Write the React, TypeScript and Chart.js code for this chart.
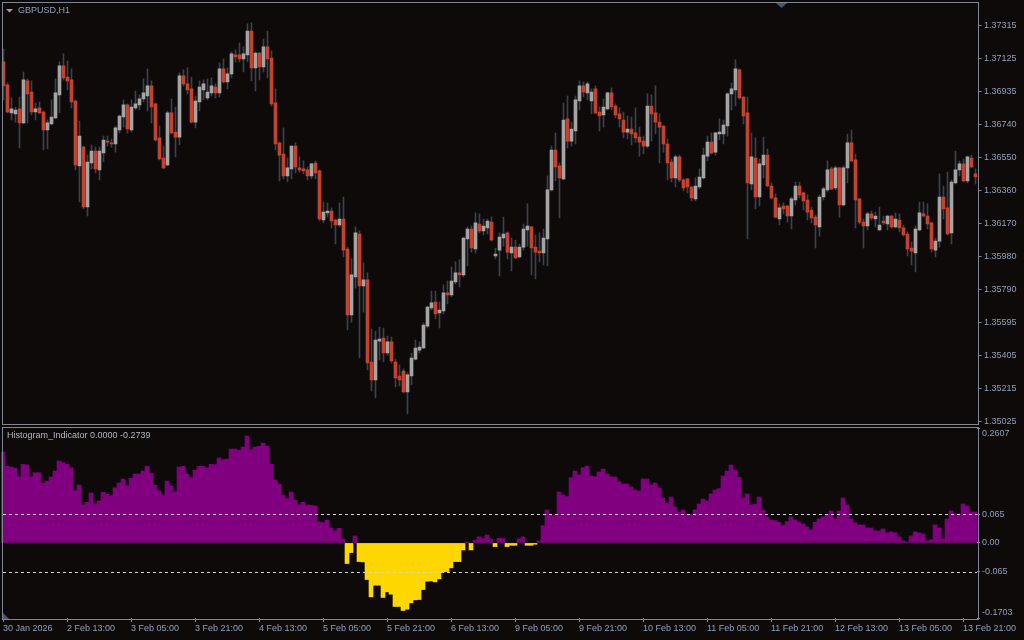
import React, { useEffect, useRef } from "react";
import { Chart, registerables } from "chart.js";

Chart.register(...registerables);

// ---------- data ----------
const SYMBOL_TITLE = "GBPUSD,H1";
const INDICATOR_TITLE = "Histogram_Indicator 0.0000 -0.2739";

const OPEN = [
  1.37105,1.36972,1.36810,1.36804,1.36833,1.36752,1.36995,1.36931,1.36815,1.36839,
  1.36815,1.36711,1.36746,1.36781,1.36914,1.37082,1.37018,1.37001,1.36879,1.36503,
  1.36612,1.36265,1.36520,1.36589,1.36480,1.36578,1.36647,1.36636,1.36630,1.36711,
  1.36786,1.36856,1.36711,1.36839,1.36856,1.36891,1.36908,1.36966,1.36862,1.36665,
  1.36549,1.36509,1.36810,1.36699,1.36670,1.37024,1.36978,1.36949,1.36757,1.36873,
  1.36943,1.36897,1.36926,1.36960,1.36926,1.37065,1.36989,1.37036,1.37146,1.37146,
  1.37123,1.37146,1.37284,1.37071,1.37157,1.37076,1.37192,1.37128,1.36868,1.36636,
  1.36572,1.36445,1.36486,1.36618,1.36492,1.36486,1.36480,1.36445,1.36520,1.36474,
  1.36190,1.36231,1.36242,1.36190,1.36161,1.36196,1.36022,1.35640,1.35860,1.36109,
  1.35808,1.35843,1.35368,1.35264,1.35489,1.35507,1.35420,1.35484,1.35368,1.35287,
  1.35316,1.35194,1.35287,1.35385,1.35437,1.35449,1.35576,1.35681,1.35715,1.35652,
  1.35663,1.35768,1.35756,1.35831,1.35884,1.35872,1.36080,1.36138,1.36022,1.36167,
  1.36127,1.36144,1.36178,1.35982,1.36016,1.36086,1.36115,1.35999,1.36033,1.35976,
  1.36033,1.36132,1.36150,1.36033,1.36010,1.35999,1.36080,1.36364,1.36595,1.36503,
  1.36428,1.36775,1.36647,1.36705,1.36879,1.36966,1.36926,1.36879,1.36949,1.36815,
  1.36798,1.36833,1.36926,1.36850,1.36804,1.36769,1.36699,1.36717,1.36694,1.36670,
  1.36647,1.36618,1.36850,1.36810,1.36757,1.36734,1.36630,1.36526,1.36434,1.36555,
  1.36422,1.36428,1.36381,1.36312,1.36381,1.36434,1.36560,1.36641,1.36583,1.36688,
  1.36688,1.36734,1.36920,1.36943,1.37059,1.36902,1.36810,1.36399,1.36549,1.36323,
  1.36509,1.36566,1.36387,1.36318,1.36196,1.36271,1.36271,1.36213,1.36306,1.36387,
  1.36347,1.36306,1.36248,1.36207,1.36150,1.36323,1.36364,1.36486,1.36376,1.36492,
  1.36277,1.36492,1.36636,1.36538,1.36312,1.36178,1.36155,1.36225,1.36196,1.36132,
  1.36184,1.36167,1.36213,1.36150,1.36190,1.36144,1.36109,1.36028,1.35999,1.36132,
  1.36225,1.36213,1.36173,1.36016,1.36068,1.36323,1.36260,1.36115,1.36405,1.36480,
  1.36515,1.36416,1.36549,1.36457
];

const HIGH = [
  1.37180,1.36984,1.36897,1.36844,1.36902,1.37047,1.37007,1.36995,1.36868,1.36873,
  1.36821,1.36769,1.36885,1.37007,1.37105,1.37152,1.37111,1.37065,1.36885,1.36763,
  1.36618,1.36566,1.36624,1.36612,1.36612,1.36676,1.36676,1.36659,1.36734,1.36798,
  1.36885,1.36862,1.36885,1.36937,1.36914,1.37007,1.37065,1.36995,1.36868,1.36734,
  1.36618,1.36821,1.36891,1.36844,1.37042,1.37059,1.37071,1.37018,1.36908,1.36995,
  1.37001,1.37007,1.37013,1.36978,1.37100,1.37123,1.37071,1.37163,1.37175,1.37215,
  1.37192,1.37325,1.37331,1.37163,1.37160,1.37238,1.37284,1.37169,1.36949,1.36641,
  1.36723,1.36549,1.36620,1.36636,1.36555,1.36532,1.36497,1.36520,1.36532,1.36480,
  1.36294,1.36289,1.36260,1.36196,1.36289,1.36323,1.36033,1.35965,1.36150,1.36127,
  1.35942,1.35884,1.35559,1.35547,1.35570,1.35565,1.35518,1.35512,1.35385,1.35351,
  1.35328,1.35305,1.35420,1.35495,1.35484,1.35594,1.35692,1.35779,1.35779,1.35715,
  1.35814,1.35837,1.35918,1.35948,1.35959,1.36091,1.36150,1.36155,1.36231,1.36225,
  1.36196,1.36196,1.36207,1.36028,1.36115,1.36207,1.36121,1.36086,1.36074,1.36051,
  1.36167,1.36283,1.36152,1.36103,1.36115,1.36138,1.36445,1.36618,1.36694,1.36520,
  1.36868,1.36908,1.36757,1.36908,1.36995,1.36989,1.36989,1.36949,1.36966,1.36844,
  1.36891,1.36931,1.36955,1.36862,1.36839,1.36815,1.36792,1.36786,1.36839,1.36728,
  1.36676,1.36920,1.36914,1.36966,1.36804,1.36736,1.36659,1.36543,1.36566,1.36566,
  1.36428,1.36430,1.36383,1.36434,1.36486,1.36607,1.36676,1.36694,1.36697,1.36775,
  1.36769,1.36926,1.36984,1.37117,1.37065,1.36904,1.36902,1.36694,1.36665,1.36543,
  1.36670,1.36601,1.36405,1.36341,1.36283,1.36289,1.36277,1.36323,1.36410,1.36410,
  1.36352,1.36335,1.36265,1.36219,1.36335,1.36381,1.36532,1.36497,1.36503,1.36497,
  1.36503,1.36688,1.36711,1.36572,1.36315,1.36196,1.36236,1.36242,1.36236,1.36265,
  1.36213,1.36219,1.36219,1.36231,1.36225,1.36161,1.36121,1.36062,1.36155,1.36294,
  1.36294,1.36283,1.36178,1.36086,1.36457,1.36387,1.36468,1.36422,1.36589,1.36532,
  1.36543,1.36560,1.36566,1.36486
];

const LOW = [
  1.36885,1.36810,1.36769,1.36757,1.36607,1.36746,1.36752,1.36798,1.36769,1.36804,
  1.36595,1.36601,1.36740,1.36775,1.36810,1.37001,1.36943,1.36839,1.36480,1.36294,
  1.36254,1.36213,1.36486,1.36463,1.36422,1.36526,1.36618,1.36612,1.36583,1.36694,
  1.36728,1.36694,1.36699,1.36827,1.36827,1.36873,1.36821,1.36752,1.36647,1.36538,
  1.36486,1.36503,1.36688,1.36555,1.36624,1.36966,1.36920,1.36752,1.36723,1.36821,
  1.36885,1.36885,1.36908,1.36897,1.36902,1.36984,1.36949,1.37013,1.37105,1.37105,
  1.37047,1.37105,1.36995,1.36937,1.37001,1.37047,1.37013,1.36850,1.36595,1.36416,
  1.36428,1.36410,1.36428,1.36463,1.36468,1.36457,1.36422,1.36428,1.36428,1.36184,
  1.36173,1.36207,1.36144,1.36051,1.36150,1.35976,1.35553,1.35599,1.35796,1.35391,
  1.35657,1.35322,1.35200,1.35160,1.35380,1.35368,1.35408,1.35362,1.35223,1.35229,
  1.35189,1.35067,1.35235,1.35380,1.35420,1.35443,1.35565,1.35669,1.35617,1.35565,
  1.35646,1.35704,1.35744,1.35820,1.35802,1.35860,1.35924,1.36004,1.35999,1.36115,
  1.36103,1.36109,1.36068,1.35965,1.35866,1.36039,1.35965,1.35895,1.35965,1.35970,
  1.36016,1.36039,1.35872,1.35849,1.35948,1.35930,1.35924,1.36358,1.36416,1.36202,
  1.36422,1.36607,1.36618,1.36630,1.36827,1.36902,1.36885,1.36804,1.36804,1.36705,
  1.36728,1.36827,1.36827,1.36781,1.36728,1.36665,1.36659,1.36624,1.36641,1.36560,
  1.36572,1.36607,1.36647,1.36688,1.36520,1.36583,1.36422,1.36410,1.36381,1.36410,
  1.36358,1.36347,1.36300,1.36300,1.36370,1.36428,1.36532,1.36572,1.36566,1.36653,
  1.36630,1.36676,1.36827,1.36850,1.36891,1.36746,1.36080,1.36364,1.36254,1.36271,
  1.36434,1.36381,1.36312,1.36202,1.36161,1.36225,1.36178,1.36138,1.36277,1.36318,
  1.36248,1.36190,1.36173,1.36028,1.36097,1.36306,1.36352,1.36364,1.36364,1.36207,
  1.36271,1.36405,1.36526,1.36144,1.36167,1.36028,1.36132,1.36190,1.36150,1.36127,
  1.36161,1.36132,1.36144,1.36144,1.36121,1.36097,1.35982,1.35930,1.35889,1.36127,
  1.36207,1.36138,1.36004,1.35976,1.36033,1.36196,1.36103,1.36051,1.36399,1.36445,
  1.36410,1.36405,1.36492,1.36399
];

const CLOSE = [
  1.36966,1.36815,1.36833,1.36827,1.36752,1.37001,1.36920,1.36815,1.36833,1.36810,
  1.36711,1.36752,1.36786,1.36926,1.37082,1.37013,1.36995,1.36873,1.36509,1.36676,
  1.36265,1.36526,1.36589,1.36486,1.36589,1.36653,1.36641,1.36630,1.36723,1.36792,
  1.36856,1.36717,1.36844,1.36862,1.36891,1.36926,1.36966,1.36844,1.36653,1.36543,
  1.36492,1.36810,1.36694,1.36670,1.37024,1.36978,1.36943,1.36757,1.36879,1.36960,
  1.36978,1.36931,1.36966,1.36926,1.37065,1.36989,1.37036,1.37152,1.37134,1.37123,
  1.37152,1.37284,1.37071,1.37157,1.37076,1.37192,1.37123,1.36862,1.36630,1.36566,
  1.36445,1.36492,1.36618,1.36497,1.36480,1.36474,1.36445,1.36515,1.36463,1.36196,
  1.36236,1.36242,1.36184,1.36161,1.36196,1.36016,1.35640,1.35872,1.36115,1.35808,
  1.35843,1.35362,1.35264,1.35495,1.35501,1.35420,1.35484,1.35374,1.35276,1.35264,
  1.35194,1.35293,1.35391,1.35449,1.35455,1.35582,1.35686,1.35710,1.35646,1.35669,
  1.35768,1.35756,1.35837,1.35884,1.35872,1.36086,1.36138,1.36028,1.36173,1.36127,
  1.36155,1.36184,1.36074,1.35993,1.36091,1.36109,1.36004,1.36033,1.35970,1.36033,
  1.36138,1.36155,1.36028,1.36004,1.35999,1.36086,1.36364,1.36595,1.36497,1.36434,
  1.36769,1.36647,1.36717,1.36885,1.36966,1.36931,1.36978,1.36931,1.36810,1.36792,
  1.36844,1.36926,1.36844,1.36798,1.36775,1.36699,1.36717,1.36688,1.36665,1.36641,
  1.36618,1.36850,1.36804,1.36757,1.36728,1.36630,1.36520,1.36434,1.36555,1.36422,
  1.36376,1.36381,1.36318,1.36387,1.36439,1.36566,1.36641,1.36578,1.36694,1.36699,
  1.36740,1.36920,1.36949,1.37065,1.36897,1.36792,1.36405,1.36555,1.36323,1.36515,
  1.36566,1.36387,1.36318,1.36207,1.36260,1.36254,1.36213,1.36312,1.36387,1.36335,
  1.36300,1.36236,1.36202,1.36161,1.36323,1.36370,1.36480,1.36370,1.36492,1.36277,
  1.36492,1.36636,1.36532,1.36306,1.36178,1.36155,1.36225,1.36202,1.36213,1.36161,
  1.36173,1.36213,1.36150,1.36196,1.36144,1.36103,1.36022,1.36010,1.36138,1.36231,
  1.36213,1.36167,1.36022,1.36068,1.36323,1.36254,1.36109,1.36410,1.36480,1.36515,
  1.36416,1.36555,1.36497,1.36439
];

const HIST = [
  0.2061,0.1737,0.1721,0.1699,0.1502,0.1782,0.1767,0.1502,0.1593,0.1593,
  0.1359,0.1404,0.1495,0.1631,0.1857,0.1820,0.1782,0.1706,0.1185,0.1314,
  0.0861,0.0921,0.1133,0.0891,0.0951,0.1148,0.1102,0.1072,0.1253,0.1359,
  0.1450,0.1299,0.1465,0.1563,0.1563,0.1631,0.1737,0.1578,0.1306,0.1185,
  0.1087,0.1404,0.1291,0.1163,0.1721,0.1737,0.1563,0.1480,0.1653,0.1737,
  0.1737,0.1699,0.1782,0.1774,0.1925,0.1888,0.1903,0.2129,0.2129,0.2099,
  0.2174,0.2424,0.2114,0.2174,0.2190,0.2265,0.2197,0.1782,0.1427,0.1329,
  0.1087,0.1004,0.1155,0.0966,0.0861,0.0921,0.0861,0.0853,0.0838,0.0476,
  0.0461,0.0521,0.0340,0.0272,0.0332,0.0083,-0.0468,-0.0219,0.0159,-0.0423,
  -0.0430,-0.0830,-0.1223,-0.0959,-0.0959,-0.1238,-0.1110,-0.1163,-0.1442,-0.1442,
  -0.1533,-0.1502,-0.1359,-0.1291,-0.1284,-0.1057,-0.0868,-0.0861,-0.0883,-0.0815,
  -0.0657,-0.0649,-0.0566,-0.0423,-0.0423,-0.0159,0.0023,-0.0159,0.0060,0.0136,
  0.0098,0.0181,0.0083,-0.0083,0.0106,0.0098,-0.0083,-0.0053,-0.0053,0.0091,
  0.0136,-0.0053,-0.0053,-0.0030,0.0045,0.0393,0.0747,0.0634,0.0619,0.1155,
  0.1087,0.1049,0.1480,0.1631,0.1540,0.1706,0.1744,0.1518,0.1502,0.1608,
  0.1676,0.1563,0.1495,0.1495,0.1389,0.1336,0.1336,0.1268,0.1200,0.1178,
  0.1450,0.1450,0.1314,0.1359,0.1246,0.1019,0.0898,0.1042,0.0815,0.0702,
  0.0747,0.0642,0.0649,0.0747,0.0883,0.0997,0.0951,0.1110,0.1200,0.1231,
  0.1518,0.1631,0.1767,0.1653,0.1487,0.1019,0.1110,0.0861,0.0883,0.1042,
  0.0747,0.0589,0.0521,0.0506,0.0468,0.0393,0.0483,0.0589,0.0521,0.0476,
  0.0430,0.0362,0.0294,0.0468,0.0544,0.0589,0.0649,0.0725,0.0544,0.0725,
  0.1019,0.0861,0.0544,0.0453,0.0408,0.0408,0.0340,0.0340,0.0272,0.0272,
  0.0317,0.0227,0.0249,0.0234,0.0136,0.0045,0.0023,0.0159,0.0249,0.0227,
  0.0204,0.0045,0.0068,0.0408,0.0340,0.0091,0.0544,0.0725,0.0657,0.0657,
  0.0883,0.0838,0.0702,0.0702
];

const CATEGORIES = OPEN.map((_, i) => String(i));

const PRICE_MIN = 1.35009;
const PRICE_MAX = 1.37452;
const PRICE_TICKS = [1.35025, 1.35215, 1.35405, 1.35595, 1.35790, 1.35980, 1.36170, 1.36360, 1.36550, 1.36740, 1.36935, 1.37125, 1.37315];

const HIST_MIN = -0.1703;
const HIST_MAX = 0.2607;
const HIST_TICKS = [-0.1703, -0.065, 0, 0.065, 0.2607];
const HIST_TICK_LABELS = ["-0.1703", "-0.065", "0.00", "0.065", "0.2607"];
const LEVELS = [0.065, -0.065];

const TIME_TICK_INDEX = [0, 16, 32, 48, 64, 80, 96, 112, 128, 144, 160, 176, 192, 208, 224, 240];
const TIME_TICK_LABELS = [
  "30 Jan 2026", "2 Feb 13:00", "3 Feb 05:00", "3 Feb 21:00", "4 Feb 13:00", "5 Feb 05:00",
  "5 Feb 21:00", "6 Feb 13:00", "9 Feb 05:00", "9 Feb 21:00", "10 Feb 13:00", "11 Feb 05:00",
  "11 Feb 21:00", "12 Feb 13:00", "13 Feb 05:00", "13 Feb 21:00"
];

// ---------- styles ----------
const BG = "#0d0a09";
const FG = "#93a0bc";
const BORDER = "#7f8797";
const BULL = "#a4a4a4";
const BEAR = "#c5432e";
const WICK = "#3d414b";
const PURPLE = "#800080";
const YELLOW = "#ffd700";
const MARK = "#4b5478";
const FAMILY = "'Liberation Sans', Arial, sans-serif";
const FONT = { family: FAMILY, size: 9 };

const noPad = (s: any) => {
  s.paddingTop = 0;
  s.paddingBottom = 0;
  s.paddingLeft = 0;
  s.paddingRight = 0;
};

const topDecor = {
  id: "topDecor",
  afterDraw(chart: any) {
    const ctx = chart.ctx;
    ctx.save();
    ctx.strokeStyle = BORDER;
    ctx.lineWidth = 1;
    ctx.strokeRect(2.5, 2.5, 976, 422);
    ctx.fillStyle = "#9aa0ac";
    ctx.beginPath();
    ctx.moveTo(6, 9);
    ctx.lineTo(13, 9);
    ctx.lineTo(9.5, 12.5);
    ctx.closePath();
    ctx.fill();
    ctx.fillStyle = FG;
    ctx.font = `9px ${FAMILY}`;
    ctx.textBaseline = "middle";
    ctx.textAlign = "left";
    ctx.fillText(SYMBOL_TITLE, 18, 11);
    ctx.fillStyle = MARK;
    ctx.beginPath();
    ctx.moveTo(776, 3);
    ctx.lineTo(787, 3);
    ctx.lineTo(781.5, 8);
    ctx.closePath();
    ctx.fill();
    ctx.restore();
  },
};

const botDecor = {
  id: "botDecor",
  afterDatasetsDraw(chart: any) {
    const { ctx, chartArea, scales } = chart;
    ctx.save();
    ctx.strokeStyle = "#d4d4d4";
    ctx.lineWidth = 1;
    ctx.setLineDash([3, 3]);
    for (const lv of LEVELS) {
      const y = Math.round(scales.y.getPixelForValue(lv)) + 0.5;
      ctx.beginPath();
      ctx.moveTo(chartArea.left + 2, y);
      ctx.lineTo(chartArea.right, y);
      ctx.stroke();
    }
    ctx.restore();
  },
  afterDraw(chart: any) {
    const ctx = chart.ctx;
    ctx.save();
    ctx.strokeStyle = BORDER;
    ctx.lineWidth = 1;
    ctx.strokeRect(2.5, 1.5, 976, 192);
    ctx.fillStyle = "#b4b8c2";
    ctx.font = `9px ${FAMILY}`;
    ctx.textBaseline = "middle";
    ctx.textAlign = "left";
    ctx.fillText(INDICATOR_TITLE, 7, 10);
    ctx.fillStyle = MARK;
    ctx.beginPath();
    ctx.moveTo(3, 187);
    ctx.lineTo(3, 193);
    ctx.lineTo(9, 193);
    ctx.closePath();
    ctx.fill();
    ctx.restore();
  },
};

export default function App() {
  const topRef = useRef<HTMLCanvasElement>(null);
  const botRef = useRef<HTMLCanvasElement>(null);

  useEffect(() => {
    const top = new Chart(topRef.current as HTMLCanvasElement, {
      type: "bar",
      data: {
        labels: CATEGORIES,
        datasets: [
          {
            label: "body",
            data: OPEN.map((o, i) => [o, CLOSE[i]]) as any,
            backgroundColor: OPEN.map((o, i) => (CLOSE[i] >= o ? BULL : BEAR)),
            barThickness: 3,
            minBarLength: 1,
            grouped: false,
            order: 0,
          } as any,
          {
            label: "wick",
            data: LOW.map((l, i) => [l, HIGH[i]]) as any,
            backgroundColor: WICK,
            barThickness: 1,
            grouped: false,
            order: 1,
          } as any,
        ],
      },
      options: {
        animation: false,
        responsive: false,
        devicePixelRatio: 1,
        layout: { padding: { left: 1.5, top: 2, bottom: 2, right: 0 } },
        plugins: { legend: { display: false }, tooltip: { enabled: false } },
        scales: {
          x: { display: false, offset: true },
          y: {
            position: "right",
            min: PRICE_MIN,
            max: PRICE_MAX,
            afterFit: (s: any) => { s.width = 46.5; noPad(s); },
            afterBuildTicks: (s: any) => { s.ticks = PRICE_TICKS.map((v) => ({ value: v })); },
            ticks: {
              autoSkip: false,
              color: FG,
              font: FONT,
              padding: 2.5,
              callback: (v: any) => Number(v).toFixed(5),
            },
            grid: { drawOnChartArea: false, drawTicks: true, tickLength: 4, color: BORDER },
            border: { display: false },
          },
        },
      } as any,
      plugins: [topDecor],
    });

    const bot = new Chart(botRef.current as HTMLCanvasElement, {
      type: "bar",
      data: {
        labels: CATEGORIES,
        datasets: [
          {
            label: "hist",
            data: HIST,
            backgroundColor: HIST.map((v) => (v >= 0 ? PURPLE : YELLOW)),
            barPercentage: 1,
            categoryPercentage: 1,
            borderWidth: 0,
          },
        ],
      },
      options: {
        animation: false,
        responsive: false,
        devicePixelRatio: 1,
        layout: { padding: { left: 1, top: 2, bottom: 0, right: 0 } },
        plugins: { legend: { display: false }, tooltip: { enabled: false } },
        scales: {
          x: {
            offset: true,
            afterFit: (s: any) => { s.height = 22; noPad(s); },
            afterBuildTicks: (s: any) => { s.ticks = TIME_TICK_INDEX.map((v) => ({ value: v })); },
            ticks: {
              autoSkip: false,
              maxRotation: 0,
              minRotation: 0,
              align: "start",
              padding: 1,
              color: FG,
              font: FONT,
              callback: (_v: any, i: number) => TIME_TICK_LABELS[i],
            },
            grid: { drawOnChartArea: false, offset: false, tickLength: 4, color: BORDER },
            border: { display: false },
          },
          y: {
            position: "right",
            min: HIST_MIN,
            max: HIST_MAX,
            afterFit: (s: any) => { s.width = 47; noPad(s); },
            afterBuildTicks: (s: any) => { s.ticks = HIST_TICKS.map((v) => ({ value: v })); },
            ticks: {
              autoSkip: false,
              color: FG,
              font: FONT,
              padding: 2,
              callback: (_v: any, i: number) => {
                const t = HIST_TICK_LABELS[i];
                if (i === HIST_TICKS.length - 1) return ["", t];
                if (i === 0) return [t, ""];
                return t;
              },
            },
            grid: { drawOnChartArea: false, drawTicks: true, tickLength: 3, color: BORDER },
            border: { display: false },
          },
        },
      } as any,
      plugins: [botDecor],
    });

    return () => {
      top.destroy();
      bot.destroy();
    };
  }, []);

  return (
    <div
      style={{
        position: "fixed",
        left: 0,
        top: 0,
        width: 1024,
        height: 640,
        background: BG,
        overflow: "hidden",
      }}
    >
      <canvas
        ref={topRef}
        width={1024}
        height={426}
        style={{ position: "absolute", left: 0, top: 0, width: 1024, height: 426, display: "block" }}
      />
      <canvas
        ref={botRef}
        width={1024}
        height={214}
        style={{ position: "absolute", left: 0, top: 426, width: 1024, height: 214, display: "block" }}
      />
    </div>
  );
}
